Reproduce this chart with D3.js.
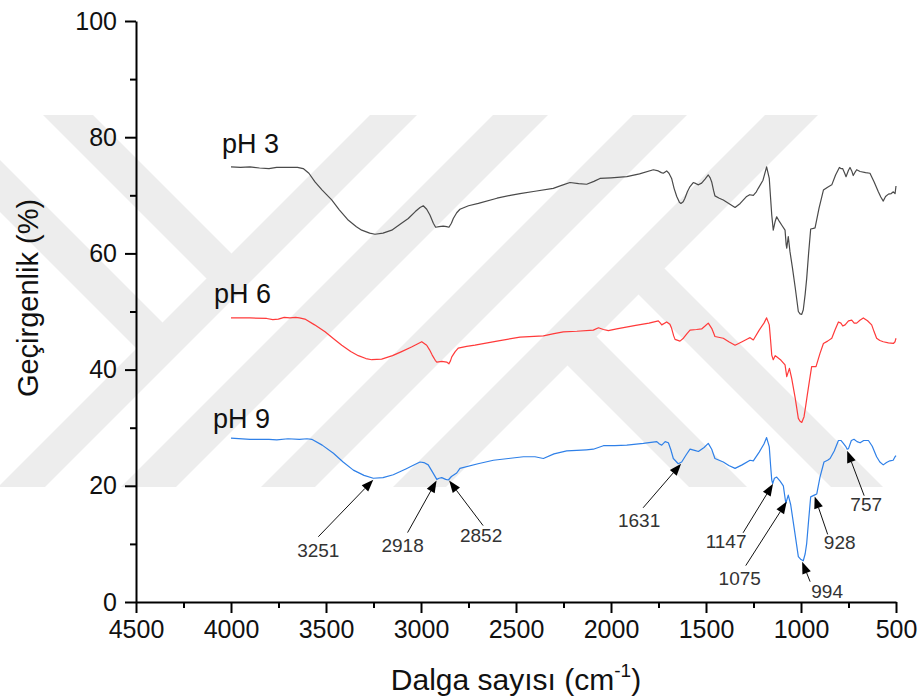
<!DOCTYPE html>
<html>
<head>
<meta charset="utf-8">
<script src="https://cdn.jsdelivr.net/npm/d3@7"></script>
<style>
  body { margin: 0; background: #fff; }
  svg { display: block; }
  text { font-family: "Liberation Sans", Arial, sans-serif; }
</style>
</head>
<body>
<svg id="chart" width="920" height="699"></svg>
<script>
// Axis ticks
const xTicks = [4500, 4000, 3500, 3000, 2500, 2000, 1500, 1000, 500];
const xMinorTicks = [4250, 3750, 3250, 2750, 2250, 1750, 1250, 750];
const yTicks = [0, 20, 40, 60, 80, 100];
const yMinorTicks = [10, 30, 50, 70, 90];

// FTIR spectra: [wavenumber (cm-1), transmittance (%)]
const seriesNames = ["pH 3", "pH 6", "pH 9"];
const ph3 = [[4000,74.9],[3950,74.8],[3900,74.9],[3850,74.7],[3800,74.6],[3760,74.8],[3700,74.8],[3650,74.8],[3620,74.6],[3590,73.8],[3558,72.3],[3520,70.9],[3470,69.2],[3430,67.5],[3382,65.7],[3340,64.6],[3312,64.0],[3270,63.5],[3242,63.3],[3200,63.5],[3154,64.0],[3110,65.0],[3067,66.0],[3030,67.2],[3005,67.9],[2988,68.2],[2970,67.6],[2953,66.6],[2935,65.2],[2923,64.5],[2905,64.6],[2883,64.7],[2865,64.6],[2853,64.5],[2840,65.2],[2830,66.0],[2812,67.0],[2795,67.6],[2750,68.2],[2698,68.6],[2600,69.5],[2530,70.0],[2479,70.3],[2400,70.7],[2304,71.2],[2260,71.7],[2216,72.2],[2170,72.0],[2128,71.9],[2090,72.4],[2058,72.9],[2000,73.0],[1917,73.2],[1850,73.7],[1777,74.4],[1751,74.2],[1735,73.9],[1725,73.8],[1707,74.2],[1695,73.8],[1681,72.9],[1668,71.2],[1654,69.8],[1640,68.8],[1632,68.6],[1620,68.9],[1611,69.5],[1598,70.6],[1584,71.5],[1567,72.2],[1552,72.0],[1540,71.8],[1523,72.1],[1505,72.8],[1488,73.5],[1478,73.0],[1470,72.3],[1460,70.8],[1453,69.9],[1430,69.5],[1409,69.2],[1380,68.6],[1347,67.9],[1320,68.6],[1286,69.8],[1270,70.1],[1251,70.0],[1235,70.6],[1225,71.2],[1200,72.6],[1181,74.9],[1167,72.9],[1160,69.5],[1154,66.6],[1146,64.0],[1136,65.5],[1128,66.3],[1114,65.5],[1100,64.8],[1084,64.0],[1078,61.5],[1075,60.9],[1067,62.9],[1058,60.3],[1045,57.5],[1030,54.0],[1014,50.0],[1005,49.6],[996,49.5],[988,50.3],[978,53.0],[970,55.7],[960,60.0],[949,64.2],[935,64.3],[926,64.4],[905,67.8],[882,70.9],[860,71.4],[838,71.8],[818,73.5],[798,74.8],[790,74.6],[781,74.6],[770,73.8],[763,73.2],[750,74.3],[742,74.8],[733,74.2],[725,73.4],[715,74.0],[707,74.4],[689,74.1],[660,73.9],[637,73.8],[615,72.3],[593,70.6],[580,69.7],[567,69.0],[555,69.8],[540,70.2],[525,70.3],[514,70.6],[505,70.3],[500,71.6]];
const ph6 = [[4000,48.9],[3950,48.9],[3900,48.9],[3812,48.8],[3780,48.6],[3751,48.7],[3720,49.0],[3690,48.9],[3660,49.0],[3640,48.9],[3611,48.7],[3560,47.7],[3505,46.5],[3460,45.3],[3417,44.2],[3370,43.1],[3330,42.4],[3290,41.9],[3259,41.7],[3207,41.8],[3150,42.4],[3102,43.1],[3050,43.9],[2996,44.8],[2970,44.2],[2955,43.4],[2941,42.5],[2925,41.6],[2917,41.3],[2890,41.4],[2865,41.3],[2853,41.0],[2845,41.5],[2838,42.2],[2820,43.1],[2804,43.7],[2760,44.0],[2716,44.2],[2600,44.9],[2479,45.6],[2356,45.8],[2300,46.2],[2251,46.5],[2180,46.6],[2093,46.8],[2066,47.2],[2040,46.9],[2014,46.7],[1970,47.0],[1870,47.6],[1800,48.0],[1751,48.4],[1740,48.0],[1733,47.7],[1707,48.2],[1690,47.8],[1681,47.1],[1670,45.8],[1663,45.2],[1637,44.9],[1619,45.4],[1600,46.2],[1584,46.8],[1550,46.9],[1523,47.0],[1505,47.5],[1488,48.0],[1470,47.1],[1460,46.3],[1453,45.7],[1409,45.4],[1380,44.8],[1347,44.2],[1310,44.8],[1280,45.3],[1268,45.5],[1251,45.1],[1220,46.8],[1195,48.0],[1181,48.9],[1167,47.7],[1160,45.0],[1154,42.5],[1146,41.7],[1136,42.4],[1128,42.2],[1105,41.6],[1084,40.8],[1075,38.8],[1061,40.2],[1049,38.5],[1030,35.0],[1014,31.6],[1005,31.1],[996,30.9],[984,31.9],[975,33.8],[967,35.6],[955,38.2],[944,40.5],[921,40.5],[900,42.8],[882,44.5],[860,44.9],[838,45.4],[820,46.9],[803,48.2],[790,48.0],[780,47.5],[768,47.7],[750,48.4],[733,48.5],[720,48.0],[707,48.0],[690,48.5],[672,48.9],[650,48.4],[628,47.7],[615,46.5],[602,45.4],[585,45.0],[567,44.8],[540,44.6],[514,44.5],[505,44.8],[500,45.4]];
const ph9 = [[4000,28.2],[3900,28.0],[3800,28.0],[3759,27.9],[3700,28.1],[3640,28.0],[3600,28.1],[3575,28.0],[3520,27.0],[3461,25.6],[3410,24.1],[3356,22.7],[3300,21.8],[3251,21.3],[3200,21.4],[3146,21.9],[3080,22.9],[3030,23.7],[3005,24.1],[2985,24.0],[2962,23.6],[2940,22.4],[2917,21.1],[2905,21.3],[2891,21.4],[2870,21.1],[2856,21.0],[2840,21.6],[2812,22.2],[2795,23.0],[2700,23.8],[2619,24.4],[2540,24.7],[2461,25.0],[2400,25.0],[2356,24.7],[2300,25.5],[2233,26.0],[2180,26.1],[2130,26.2],[2093,26.3],[2040,26.9],[1980,26.9],[1917,27.0],[1830,27.3],[1759,27.6],[1745,27.2],[1733,27.0],[1715,27.6],[1698,27.4],[1685,26.2],[1672,24.7],[1646,23.8],[1628,24.1],[1605,25.3],[1584,26.3],[1560,26.1],[1540,25.9],[1510,26.6],[1488,27.3],[1470,26.3],[1453,24.7],[1409,24.1],[1380,23.5],[1347,23.0],[1310,23.6],[1268,24.4],[1251,24.3],[1220,25.8],[1195,27.2],[1181,28.3],[1167,26.7],[1160,23.5],[1154,21.0],[1149,20.4],[1140,21.3],[1128,21.5],[1110,20.8],[1093,20.0],[1080,17.0],[1067,18.4],[1054,16.7],[1035,12.5],[1014,7.8],[1000,7.3],[988,7.1],[978,8.3],[970,10.1],[960,14.0],[949,18.1],[930,18.4],[917,18.6],[900,21.5],[879,24.1],[860,24.4],[847,24.7],[825,26.0],[803,27.8],[790,27.8],[777,27.3],[765,26.8],[757,26.3],[750,26.4],[735,27.8],[721,28.0],[705,27.6],[689,27.4],[670,27.8],[645,27.8],[625,26.8],[602,25.0],[585,24.1],[567,23.6],[550,24.0],[532,24.3],[515,24.4],[505,25.0],[500,25.2]];
const seriesColors = ["#4a4a4a", "#ff3a3a", "#2f80e8"];

// Band assignments marked on the pH 9 spectrum
const peakLabels = ["3251", "2918", "2852", "1631", "1147", "1075", "994", "928", "757"];
const peakWaves = [3251, 2918, 2852, 1631, 1147, 1075, 994, 928, 757];

// ---- layout ----
const svg = d3.select("#chart");
const x = d3.scaleLinear().domain([4500, 500]).range([136, 896]);
const y = d3.scaleLinear().domain([0, 100]).range([602, 21]);

// background watermark (diagonal bands)
const wm = svg.append("g").attr("fill", "#ededed");
const wmShapes = [
  [[370,115],[417,115],[45,487],[0,487],[0,485]],
  [[43,115],[93,115],[244,266],[219,291]],
  [[0,160],[175,335],[149,361],[0,212]],
  [[493,115],[548,115],[176,487],[121,487]],
  [[633,115],[687,115],[315,487],[261,487]],
  [[765,115],[818,115],[446,487],[393,487]],
  [[655,259],[883,487],[831,487],[620,276]],
  [[593,333],[747,487],[689,487],[565,363]]
];
wm.selectAll("polygon").data(wmShapes).join("polygon")
  .attr("points", d => d.map(p => p.join(",")).join(" "));

// spectra
const line = d3.line().x(d => x(d[0])).y(d => y(d[1]));
const allSeries = [ph3, ph6, ph9];
svg.append("g").selectAll("path").data(allSeries).join("path")
  .attr("d", line)
  .attr("fill", "none")
  .attr("stroke", (d, i) => seriesColors[i])
  .attr("stroke-width", 1.2)
  .attr("stroke-linejoin", "round");

// series labels
const labelPos = [[222, 153], [214, 303], [213, 428]];
svg.append("g").selectAll("text").data(seriesNames).join("text")
  .attr("x", (d, i) => labelPos[i][0])
  .attr("y", (d, i) => labelPos[i][1])
  .attr("font-size", 27)
  .attr("fill", "#111")
  .text(d => d);

// axes
function styleAxis(g) {
  g.select(".domain").attr("stroke-width", 2).attr("stroke", "#000");
  g.selectAll(".tick line").attr("stroke-width", 2).attr("stroke", "#000");
  g.selectAll(".tick text").attr("font-size", 25).attr("fill", "#111")
    .attr("font-family", "'Liberation Sans', Arial, sans-serif");
}
svg.append("g").attr("transform", "translate(0,602)")
  .call(d3.axisBottom(x).tickValues(xTicks).tickSize(11).tickSizeOuter(0).tickPadding(7).tickFormat(d3.format("d")))
  .call(styleAxis);
svg.append("g").attr("transform", "translate(0,602)")
  .call(d3.axisBottom(x).tickValues(xMinorTicks).tickSize(6).tickFormat(""))
  .call(g => g.select(".domain").remove())
  .call(g => g.selectAll(".tick line").attr("stroke-width", 2));
svg.append("g").attr("transform", "translate(136,0)")
  .call(d3.axisLeft(y).tickValues(yTicks).tickSize(11).tickSizeOuter(0).tickPadding(8))
  .call(styleAxis);
svg.append("g").attr("transform", "translate(136,0)")
  .call(d3.axisLeft(y).tickValues(yMinorTicks).tickSize(6).tickFormat(""))
  .call(g => g.select(".domain").remove())
  .call(g => g.selectAll(".tick line").attr("stroke-width", 2));

// axis titles
svg.append("text")
  .attr("transform", "translate(38,298) rotate(-90)")
  .attr("text-anchor", "middle")
  .attr("font-size", 29)
  .attr("fill", "#111")
  .text("Geçirgenlik (%)");
const xt = svg.append("text")
  .attr("x", 516).attr("y", 690)
  .attr("text-anchor", "middle")
  .attr("font-size", 30)
  .attr("fill", "#111");
xt.append("tspan").text("Dalga sayısı (cm");
xt.append("tspan").attr("font-size", 19).attr("dy", -13).text("-1");
xt.append("tspan").attr("dy", 13).text(")");

// peak arrows: tail offset and text offset relative to the arrow tip (px)
const arrowLayout = [
  { tail: [-55, 57], text: [-55, 77] },
  { tail: [-29, 52], text: [-34, 71] },
  { tail: [34, 45], text: [32, 61] },
  { tail: [-38, 44], text: [-42, 63] },
  { tail: [-30, 49], text: [-47, 64] },
  { tail: [-41, 64], text: [-47, 83] },
  { tail: [8, 20], text: [25, 36] },
  { tail: [13, 38], text: [25, 53] },
  { tail: [17, 45], text: [19, 60] }
];
const bis = d3.bisector(d => -d[0]).left;
function valueAt(series, w) {
  const i = bis(series, -w);
  if (i <= 0) return series[0][1];
  if (i >= series.length) return series[series.length - 1][1];
  const a = series[i - 1], b = series[i];
  const t = (w - a[0]) / (b[0] - a[0]);
  return a[1] + t * (b[1] - a[1]);
}
const ann = svg.append("g");
peakWaves.forEach((w, i) => {
  const tx = x(w), ty = y(valueAt(ph9, w)) + 1.5;
  const L = arrowLayout[i];
  const sx = tx + L.tail[0], sy = ty + L.tail[1];
  const ang = Math.atan2(ty - sy, tx - sx);
  const hl = 12, hw = 4.5;
  const bx = tx - hl * Math.cos(ang), by = ty - hl * Math.sin(ang);
  ann.append("line")
    .attr("x1", sx).attr("y1", sy).attr("x2", bx).attr("y2", by)
    .attr("stroke", "#111").attr("stroke-width", 1);
  ann.append("polygon")
    .attr("points", [
      [tx, ty],
      [bx + hw * Math.sin(ang), by - hw * Math.cos(ang)],
      [bx - hw * Math.sin(ang), by + hw * Math.cos(ang)]
    ].map(p => p.join(",")).join(" "))
    .attr("fill", "#000");
  ann.append("text")
    .attr("x", tx + L.text[0]).attr("y", ty + L.text[1])
    .attr("text-anchor", "middle")
    .attr("font-size", 19)
    .attr("fill", "#333")
    .text(peakLabels[i]);
});
</script>
</body>
</html>
